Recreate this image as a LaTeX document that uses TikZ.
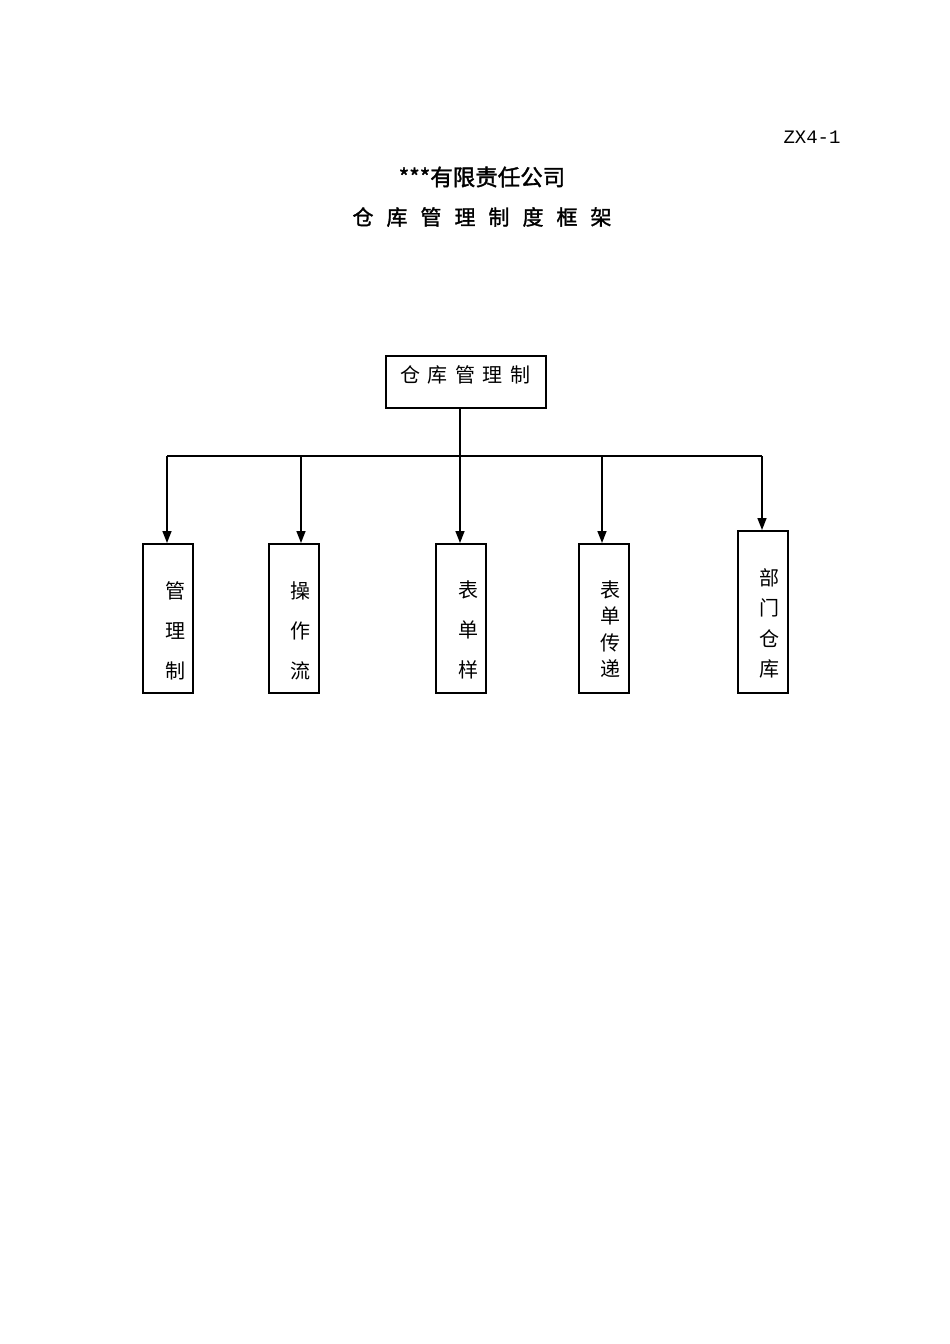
\documentclass[tikz,border=0pt]{standalone}
\usepackage{fontspec}
\newfontfamily\cjk{Noto Sans CJK SC}
\newfontfamily\cjkb{Noto Sans CJK SC}[FakeBold=1.5]
\newfontfamily\lat{Liberation Mono}
\usetikzlibrary{arrows.meta}
\begin{document}
\begin{tikzpicture}[x=1pt,y=-1pt,
  box/.style={draw,line width=1.6pt,inner sep=0pt,anchor=north west},
  conn/.style={line width=1.5pt},
  arr/.style={line width=1.5pt,-{Triangle[width=9pt,length=12pt]}},
  lbl/.style={font=\cjk\fontsize{20}{20}\selectfont,inner sep=0pt}]
\useasboundingbox (0,0) rectangle (950,1344);
\fill[white] (0,0) rectangle (950,1344);
\node[font=\lat\fontsize{19}{19}\selectfont,inner sep=0pt] (code) at (812,137) {ZX4-1};
\node[font=\cjkb\fontsize{22.5}{22.5}\selectfont,inner sep=0pt] (t1) at (482,177) {***有限责任公司};
\node[font=\cjkb\fontsize{21}{21}\selectfont,inner sep=0pt] (t2) at (482,217) {仓\hspace{13pt}库\hspace{13pt}管\hspace{13pt}理\hspace{13pt}制\hspace{13pt}度\hspace{13pt}框\hspace{13pt}架};
% top box
\node[box,minimum width=160pt,minimum height=52pt] (top) at (385,355) {};
\node[lbl] (toptext) at (465,375) {仓\hspace{7.5pt}库\hspace{7.5pt}管\hspace{7.5pt}理\hspace{7.5pt}制};
% child boxes
\node[box,minimum width=50pt,minimum height=149pt] (b1) at (142,543) {};
\node[box,minimum width=50pt,minimum height=149pt] (b2) at (268,543) {};
\node[box,minimum width=50pt,minimum height=149pt] (b3) at (435,543) {};
\node[box,minimum width=50pt,minimum height=149pt] (b4) at (578,543) {};
\node[box,minimum width=50pt,minimum height=162pt] (b5) at (737,530) {};
% texts
\node[lbl] (l11) at (175,591) {管};
\node[lbl] (l12) at (175,631) {理};
\node[lbl] (l13) at (175,671) {制};
\node[lbl] (l21) at (300,591) {操};
\node[lbl] (l22) at (300,631) {作};
\node[lbl] (l23) at (300,671) {流};
\node[lbl] (l31) at (468,590) {表};
\node[lbl] (l32) at (468,630) {单};
\node[lbl] (l33) at (468,670) {样};
\node[lbl] (l41) at (610,590) {表};
\node[lbl] (l42) at (610,616) {单};
\node[lbl] (l43) at (610,643) {传};
\node[lbl] (l44) at (610,669) {递};
\node[lbl] (l51) at (769,578) {部};
\node[lbl] (l52) at (769,608) {门};
\node[lbl] (l53) at (769,639) {仓};
\node[lbl] (l54) at (769,669) {库};
% connectors
\coordinate (j) at (460,456);
\coordinate (j1) at (167,456);
\coordinate (j2) at (301,456);
\coordinate (j4) at (602,456);
\coordinate (j5) at (762,456);
\draw[conn] (top.south -| j) -- (j);
\draw[conn] (j1) -- (j5);
\draw[arr] (j1) -- (j1 |- b1.north);
\draw[arr] (j2) -- (j2 |- b2.north);
\draw[arr] (j) -- (j |- b3.north);
\draw[arr] (j4) -- (j4 |- b4.north);
\draw[arr] (j5) -- (j5 |- b5.north);
\end{tikzpicture}
\end{document}
